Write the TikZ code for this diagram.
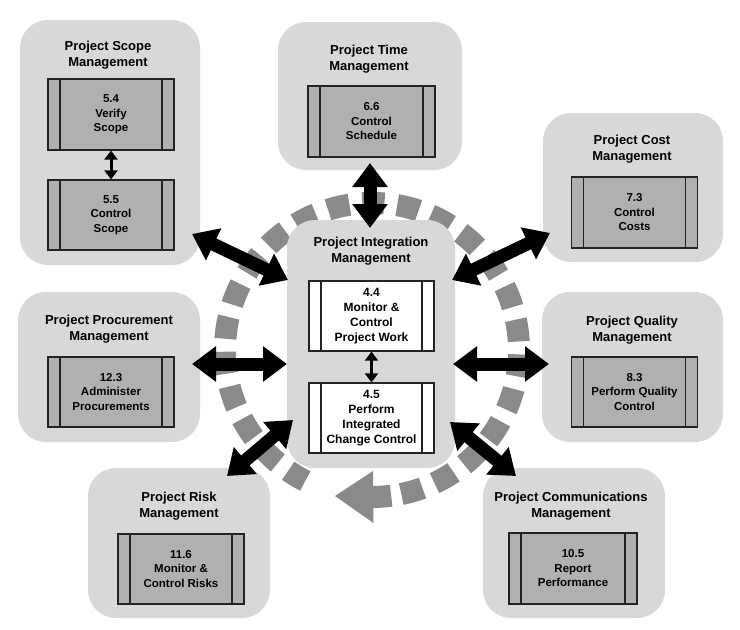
\documentclass[tikz,border=0pt]{standalone}
\usepackage{fontspec}
\setmainfont{Liberation Sans}
\usetikzlibrary{arrows.meta,calc}
\definecolor{outerfill}{RGB}{216,216,216}
\definecolor{innerfill}{RGB}{176,176,176}
\definecolor{ringgray}{RGB}{138,138,138}
\definecolor{edgegray}{RGB}{35,35,35}
\newcommand{\titlefont}{\bfseries\fontsize{13}{16}\selectfont}
\newcommand{\boxfont}{\bfseries\fontsize{11.5}{14.5}\selectfont}
\newcommand{\cboxfont}{\bfseries\fontsize{12}{15}\selectfont}
\tikzset{
  outerbox/.style={rounded corners=28pt, fill=outerfill, draw=none, inner sep=0pt},
  titlenode/.style={inner sep=0pt, align=center, font=\titlefont},
  procbox/.style={draw=edgegray, line width=1.2pt, fill=innerfill, minimum width=126pt,
    minimum height=71pt, inner sep=0pt, align=center, font=\boxfont,
    path picture={\draw[edgegray,line width=1.2pt]
      ([xshift=12pt]path picture bounding box.north west) -- ([xshift=12pt]path picture bounding box.south west)
      ([xshift=-12pt]path picture bounding box.north east) -- ([xshift=-12pt]path picture bounding box.south east);}},
  cprocbox/.style={procbox, fill=white, minimum width=125pt, minimum height=70pt, font=\cboxfont},
  thinarrow/.style={line width=3pt, {Triangle[length=9pt,width=13pt]}-{Triangle[length=9pt,width=13pt]}},
  bigarrow/.style={line width=13pt, {Triangle[length=24pt,width=34pt]}-{Triangle[length=24pt,width=34pt]}},
  ringline/.style={draw=ringgray, line width=22pt}
}
\begin{document}
\begin{tikzpicture}[x=1pt,y=1pt]
\useasboundingbox (0,0) rectangle (740,-630);
\fill[white] (0,0) rectangle (740,-630);

% cycle ring
\coordinate (rc) at (372,-350);
\draw[ringline, dash pattern=on 22pt off 13pt] (rc) ++(281.5:147) arc[start angle=281.5, end angle=603, radius=147];
\draw[ringline] (rc) ++(270:147) arc[start angle=270, end angle=277.5, radius=147];
\path (rc) ++(270.5:173) coordinate (rh1);
\path (rc) ++(270.5:121) coordinate (rh2);
\coordinate (rtip) at (335,-496);
\fill[ringgray] (rtip) -- (rh1) -- (rh2) -- cycle;

% outer boxes
\node[outerbox, minimum width=180pt, minimum height=245pt] (scope) at (110,-142.5) {};
\node[outerbox, minimum width=184pt, minimum height=148pt] (time) at (370,-96) {};
\node[outerbox, minimum width=180pt, minimum height=149pt] (cost) at (633,-187.5) {};
\node[outerbox, minimum width=168pt, minimum height=248pt] (integ) at (371,-344) {};
\node[outerbox, minimum width=182pt, minimum height=150pt] (proc) at (109,-367) {};
\node[outerbox, minimum width=181pt, minimum height=150pt] (qual) at (632.5,-367) {};
\node[outerbox, minimum width=182pt, minimum height=150pt] (risk) at (179,-543) {};
\node[outerbox, minimum width=182pt, minimum height=150pt] (comm) at (574,-543) {};

% titles
\node[titlenode] (tscope) at (108,-55.6) {Project Scope\\Management};
\node[titlenode] (ttime) at (369,-59.6) {Project Time\\Management};
\node[titlenode] (tcost) at (632,-149.6) {Project Cost\\Management};
\node[titlenode] (tinteg) at (371,-251.6) {Project Integration\\Management};
\node[titlenode] (tproc) at (109,-329.6) {Project Procurement\\Management};
\node[titlenode] (tqual) at (632,-330.6) {Project Quality\\Management};
\node[titlenode] (trisk) at (179,-506.6) {Project Risk\\Management};
\node[titlenode] (tcomm) at (571,-506.6) {Project Communications\\Management};

% process boxes
\node[procbox] (p54) at (111,-114.5) {5.4\\Verify\\Scope};
\node[procbox, minimum height=70pt] (p55) at (111,-215) {5.5\\Control\\Scope};
\node[procbox, minimum width=127pt] (p66) at (371.5,-121.5) {6.6\\Control\\Schedule};
\node[procbox] (p73) at (634.5,-212.5) {7.3\\Control\\Costs};
\node[cprocbox] (p44) at (371.5,-316) {4.4\\Monitor \&\\Control\\Project Work};
\node[cprocbox] (p45) at (371.5,-418) {4.5\\Perform\\Integrated\\Change Control};
\node[procbox, minimum height=70pt] (p123) at (111,-392) {12.3\\Administer\\Procurements};
\node[procbox, minimum height=70pt] (p83) at (634.5,-392) {8.3\\Perform Quality\\Control};
\node[procbox, minimum height=70pt] (p116) at (181,-569) {11.6\\Monitor \&\\Control Risks};
\node[procbox, minimum width=128pt] (p105) at (573,-568.5) {10.5\\Report\\Performance};

% thin arrows
\draw[thinarrow] (p54.south) -- (p55.north);
\draw[thinarrow] (p44.south) -- (p45.north);

% big arrows
\coordinate (aScope) at (192,-234);
\coordinate (aScopeI) at (288,-280);
\coordinate (aTime) at (370,-163);
\coordinate (aTimeI) at (370,-228);
\coordinate (aCost) at (550,-233);
\coordinate (aCostI) at (452,-280);
\coordinate (aProc) at (192,-364);
\coordinate (aProcI) at (287,-364);
\coordinate (aQual) at (549,-364);
\coordinate (aQualI) at (453,-364);
\coordinate (aRisk) at (227,-476);
\coordinate (aRiskI) at (293,-420);
\coordinate (aComm) at (516,-476);
\coordinate (aCommI) at (450,-422);
\draw[bigarrow] (aScope) -- (aScopeI);
\draw[bigarrow] (aTime) -- (aTimeI);
\draw[bigarrow] (aCost) -- (aCostI);
\draw[bigarrow] (aProc) -- (aProcI);
\draw[bigarrow] (aQual) -- (aQualI);
\draw[bigarrow] (aRisk) -- (aRiskI);
\draw[bigarrow] (aComm) -- (aCommI);
\end{tikzpicture}
\end{document}
